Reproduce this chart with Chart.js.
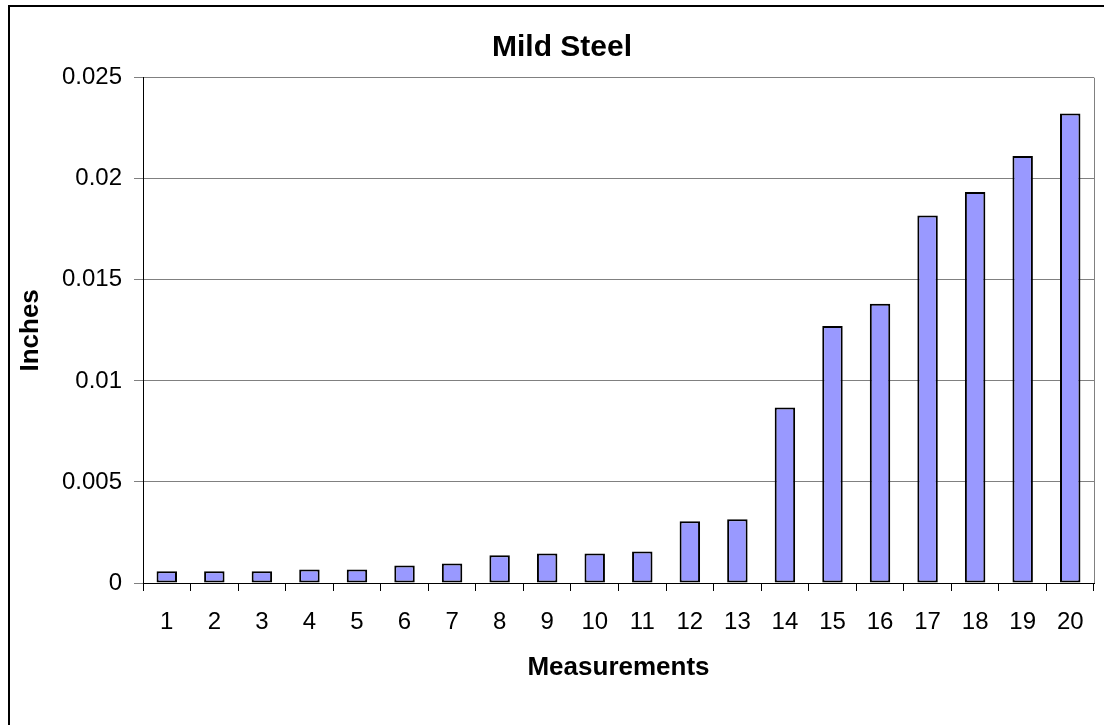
<!DOCTYPE html>
<html>
<head>
<meta charset="utf-8">
<script src="https://cdn.jsdelivr.net/npm/chart.js@4/dist/chart.umd.min.js"></script>
<style>
  body { margin: 0; overflow: hidden; background: #fff; width: 1104px; height: 725px; position: relative; }
  #frame { position: absolute; left: 8px; top: 5px; width: 1200px; height: 800px; border: 2px solid #000; }
  #chart { position: absolute; left: 0; top: 0; }
</style>
</head>
<body>
<div id="frame"></div>
<canvas id="chart" width="1124" height="725"></canvas>
<script>
const measurements = ["1","2","3","4","5","6","7","8","9","10","11","12","13","14","15","16","17","18","19","20"];
const inches = [0.00058, 0.00058, 0.00058, 0.00067, 0.00067, 0.00087, 0.00097, 0.00137, 0.00146, 0.00146,
                0.00156, 0.00305, 0.00315, 0.00868, 0.01272, 0.01381, 0.01818, 0.01935, 0.02112, 0.02323];
const yTicks = [0, 0.005, 0.01, 0.015, 0.02, 0.025];

const FONT = "'Liberation Sans', Arial, sans-serif";

// gray frame on the right side of the plot area
const plotFrame = {
    id: "plotFrame",
    beforeDatasetsDraw(chart){
        const a = chart.chartArea;
        const ctx = chart.ctx;
        ctx.save();
        ctx.strokeStyle = "#808080";
        ctx.lineWidth = 1;
        ctx.beginPath();
        ctx.moveTo(Math.round(a.right) + 0.5, a.top);
        ctx.lineTo(Math.round(a.right) + 0.5, a.bottom);
        ctx.stroke();
        ctx.restore();
    },
};

const ctx = document.getElementById("chart").getContext("2d");
let steelChart = new Chart(ctx,{
    type: "bar",
    data:{
        labels: measurements,
        datasets:[{
            data: inches,
            backgroundColor: "#9999FF",
            borderColor: "#000000",
            borderWidth: 2,
            borderSkipped: false,
            barPercentage: 0.43,
            categoryPercentage: 1,
        }],
    },
    options:{
        responsive: false,
        animation: false,
        layout:{
            padding:{ left: 30, right: 30, top: 0, bottom: 0 },
        },
        plugins:{
            legend:{ display: false },
            tooltip:{ enabled: false },
            title:{
                display: true,
                text: "Mild Steel",
                color: "#000",
                font:{ family: FONT, size: 30, weight: "bold", lineHeight: 1.2 },
                padding:{ top: 30, bottom: 11.7 },
            },
        },
        scales:{
            x:{
                grid:{
                    display: true,
                    drawOnChartArea: false,
                    drawTicks: true,
                    tickLength: 8,
                    color: "#000",
                },
                border:{ color: "#000", width: 1 },
                ticks:{
                    color: "#000",
                    font:{ family: FONT, size: 24 },
                    padding: 17,
                    maxRotation: 0,
                    autoSkip: false,
                },
                title:{
                    display: true,
                    text: "Measurements",
                    color: "#000",
                    font:{ family: FONT, size: 26, weight: "bold", lineHeight: 1.2 },
                    padding:{ top: 0, bottom: 41.4 },
                },
                afterFit(scale){ scale.height = 142; },
            },
            y:{
                min: 0,
                max: 0.025,
                grid:{
                    color: "#808080",
                    tickLength: 9,
                    drawTicks: true,
                },
                border:{ color: "#000", width: 1 },
                afterBuildTicks(scale){
                    scale.ticks = yTicks.map(v => ({ value: v }));
                },
                ticks:{
                    color: "#000",
                    font:{ family: FONT, size: 24 },
                    padding: 12,
                    callback: v => String(+v.toFixed(3)),
                },
                title:{
                    display: true,
                    text: "Inches",
                    color: "#000",
                    font:{ family: FONT, size: 26, weight: "bold", lineHeight: 1.2 },
                    padding:{ top: -14.6, bottom: 0 },
                },
                afterFit(scale){ scale.width = 113; },
            },
        },
    },
    plugins: [plotFrame],
});
</script>
</body>
</html>
